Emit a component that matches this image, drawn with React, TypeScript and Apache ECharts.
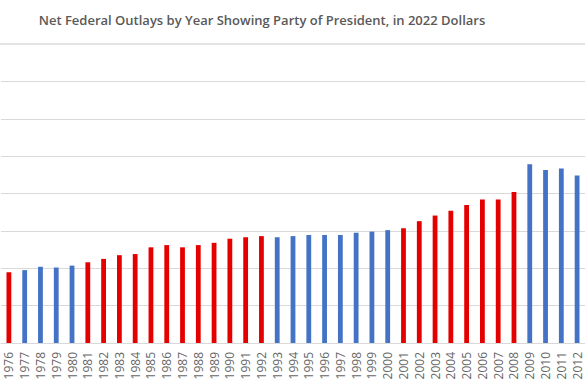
import React, { useEffect, useRef } from "react";
import * as echarts from "echarts";

const years = [
  "1976", "1977", "1978", "1979", "1980", "1981", "1982", "1983", "1984", "1985",
  "1986", "1987", "1988", "1989", "1990", "1991", "1992", "1993", "1994", "1995",
  "1996", "1997", "1998", "1999", "2000", "2001", "2002", "2003", "2004", "2005",
  "2006", "2007", "2008", "2009", "2010", "2011", "2012",
];
// Net federal outlays, trillions of 2022 dollars
const outlays = [
  1.89, 1.95, 2.04, 2.02, 2.07, 2.16, 2.25, 2.35, 2.38, 2.56,
  2.62, 2.56, 2.62, 2.68, 2.79, 2.83, 2.86, 2.83, 2.86, 2.89,
  2.89, 2.89, 2.95, 2.98, 3.02, 3.07, 3.26, 3.41, 3.54, 3.69,
  3.84, 3.84, 4.04, 4.78, 4.63, 4.67, 4.48,
];
// R = Republican president, D = Democratic president
const party = [
  "R", "D", "D", "D", "D", "R", "R", "R", "R", "R",
  "R", "R", "R", "R", "R", "R", "R", "D", "D", "D",
  "D", "D", "D", "D", "D", "R", "R", "R", "R", "R",
  "R", "R", "R", "D", "D", "D", "D",
];
const partyColors: Record<string, string> = { R: "#E50000", D: "#4472C4" };
const titleText = "Net Federal Outlays by Year Showing Party of President, in 2022 Dollars";

export default function App() {
  const ref = useRef<HTMLDivElement>(null);
  useEffect(() => {
    if (!ref.current) return;
    const chart = echarts.init(ref.current, null, { renderer: "svg" });
    chart.setOption({
      animation: false,
      backgroundColor: "#ffffff",
      graphic: [
        {
          type: "text",
          x: 262,
          y: 20,
          style: {
            text: titleText,
            align: "center",
            verticalAlign: "middle",
            fontFamily: "Open Sans",
            fontWeight: 600,
            fontSize: 13,
            fill: "#595959",
          },
        },
        {
          type: "line",
          z: 10,
          shape: { x1: 0, y1: 44, x2: 585, y2: 44 },
          style: { stroke: "#e3e3e3", lineWidth: 2 },
        },
      ],
      grid: { left: 1, right: 0, top: 44, bottom: 47, containLabel: false },
      xAxis: {
        type: "category",
        data: years,
        axisLine: { show: true, lineStyle: { color: "#d9d9d9", width: 1 } },
        axisTick: { show: false },
        axisLabel: {
          rotate: 90,
          interval: 0,
          margin: 9,
          color: "#666666",
          fontFamily: "Open Sans",
          fontSize: 12,
        },
      },
      yAxis: {
        type: "value",
        min: 0,
        max: 8,
        interval: 1,
        axisLabel: { show: false },
        axisLine: { show: false },
        axisTick: { show: false },
        splitLine: { lineStyle: { color: "#d9d9d9", width: 1 } },
      },
      series: [
        {
          type: "bar",
          barWidth: 4.8,
          data: outlays.map((v, i) => ({
            value: v,
            itemStyle: { color: partyColors[party[i]] },
          })),
        },
      ],
    });
    return () => chart.dispose();
  }, []);
  return (
    <div
      ref={ref}
      style={{ position: "fixed", left: 0, top: 0, width: 585, height: 390 }}
    />
  );
}
